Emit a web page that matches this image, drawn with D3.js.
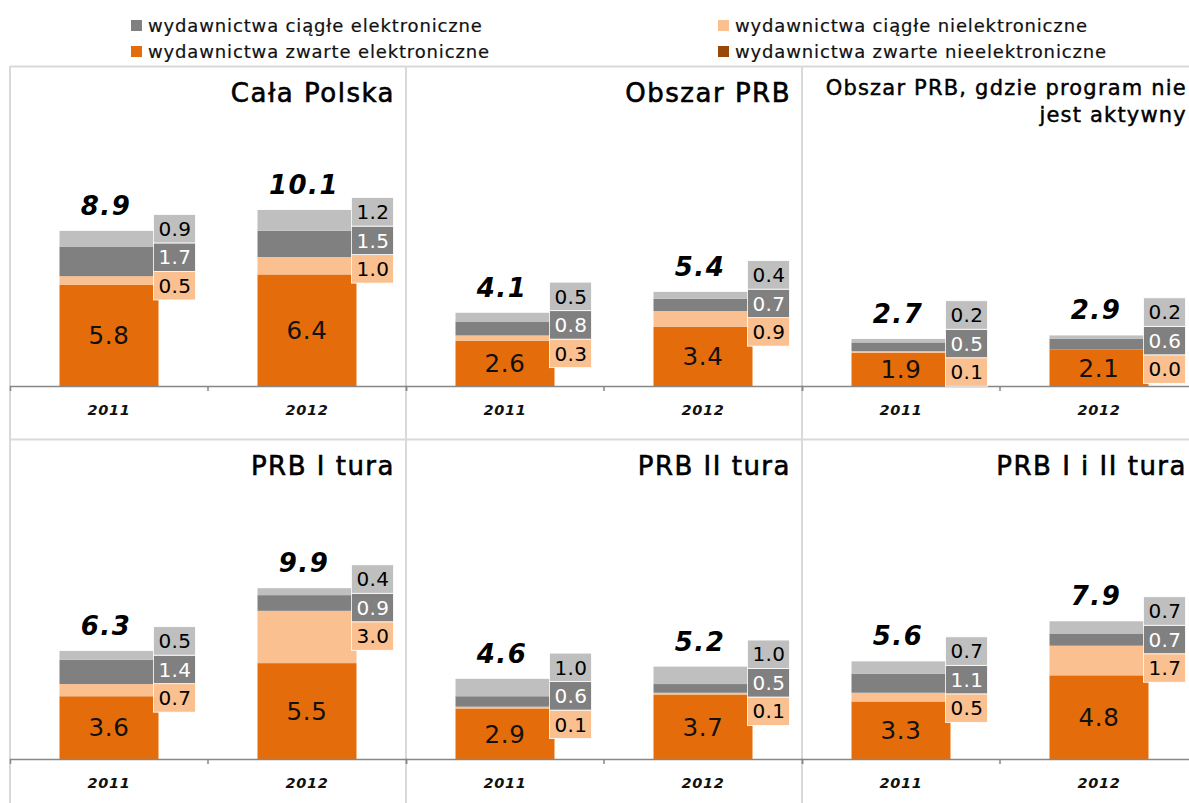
<!DOCTYPE html>
<html>
<head>
<meta charset="utf-8">
<script src="https://cdn.jsdelivr.net/npm/d3@7"></script>
<style>
  html, body { margin: 0; padding: 0; background: #fff; }
  svg { display: block; font-family: "DejaVu Sans", Verdana, sans-serif; }
</style>
</head>
<body>
<script>
// ---- data ----------------------------------------------------------------
const years = ["2011", "2012"];
const panelTitles = [
  ["Cała Polska"],
  ["Obszar PRB"],
  ["Obszar PRB, gdzie program nie", "jest aktywny"],
  ["PRB I tura"],
  ["PRB II tura"],
  ["PRB I i II tura"]
];
// per panel: [2011, 2012]
const zwarteElektroniczne   = [[5.8, 6.4], [2.6, 3.4], [1.9, 2.1], [3.6, 5.5], [2.9, 3.7], [3.3, 4.8]];
const ciagleNieelektroniczne = [[0.5, 1.0], [0.3, 0.9], [0.1, 0.0], [0.7, 3.0], [0.1, 0.1], [0.5, 1.7]];
const ciagleElektroniczne   = [[1.7, 1.5], [0.8, 0.7], [0.5, 0.6], [1.4, 0.9], [0.6, 0.5], [1.1, 0.7]];
const pozostale             = [[0.9, 1.2], [0.5, 0.4], [0.2, 0.2], [0.5, 0.4], [1.0, 1.0], [0.7, 0.7]];
const sumy                  = [[8.9, 10.1], [4.1, 5.4], [2.7, 2.9], [6.3, 9.9], [4.6, 5.2], [5.6, 7.9]];

const legendLabels = [
  "wydawnictwa ciągłe elektroniczne",
  "wydawnictwa zwarte elektroniczne",
  "wydawnictwa ciągłe nielektroniczne",
  "wydawnictwa zwarte nieelektroniczne"
];
const legendColors = ["#808080", "#E46C0A", "#FAC090", "#984807"];

// ---- layout ----------------------------------------------------------------
const W = 1189, H = 803;
const gridLeft = 10, panelW = 396;
const rowTops = [67, 440];
const plotH = 319;
const yMax = 18.3;

const keys = ["z", "cn", "ce", "poz"];
const fills = { z: "#E46C0A", cn: "#FAC090", ce: "#808080", poz: "#BFBFBF" };
const labelInk = { cn: "#000", ce: "#fff", poz: "#000" };

const svg = d3.select("body").append("svg")
  .attr("width", W).attr("height", H);

// ---- legend ----------------------------------------------------------------
const legendPos = [[131, 20], [131, 46], [718, 20], [718, 46]];
const lg = svg.append("g");
legendLabels.forEach((t, i) => {
  const [lx, ly] = legendPos[i];
  lg.append("rect").attr("x", lx).attr("y", ly).attr("width", 11).attr("height", 11)
    .attr("fill", legendColors[i]);
  lg.append("text").attr("x", lx + 17).attr("y", ly + 11.5)
    .attr("font-size", 18).attr("letter-spacing", 0.85).attr("fill", "#111")
    .attr("stroke", "#111").attr("stroke-width", 0.2)
    .text(t);
});

// ---- grid lines ------------------------------------------------------------
const gridColor = "#d9d9d9";
rowTops.forEach(t => {
  svg.append("line").attr("x1", gridLeft).attr("x2", W).attr("y1", t - 0.5).attr("y2", t - 0.5)
    .attr("stroke", gridColor).attr("stroke-width", 2);
});
[0, 1, 2].forEach(c => {
  const x = gridLeft + c * panelW;
  svg.append("line").attr("x1", x).attr("x2", x).attr("y1", rowTops[0] - 1).attr("y2", H)
    .attr("stroke", gridColor).attr("stroke-width", 2);
});

// ---- panels ----------------------------------------------------------------
const stack = d3.stack().keys(keys);

// keep stacked value labels apart: clusters of boxes centred on their targets
function spread(targets, h) {
  let clusters = targets.map((t, i) => ({ idx: [i], c: t }));
  let changed = true;
  while (changed) {
    changed = false;
    for (let i = 0; i < clusters.length - 1; i++) {
      const a = clusters[i], b = clusters[i + 1];
      const aTop = a.c - a.idx.length * h / 2;
      const bBottom = b.c + b.idx.length * h / 2;
      if (bBottom > aTop) {
        const idx = a.idx.concat(b.idx);
        const c = d3.mean(idx, j => targets[j]);
        clusters.splice(i, 2, { idx, c });
        changed = true;
        break;
      }
    }
  }
  const out = [];
  clusters.forEach(cl => {
    const n = cl.idx.length;
    cl.idx.forEach((j, k) => { out[j] = cl.c + (n - 1) / 2 * h - k * h; });
  });
  return out;
}

panelTitles.forEach((title, p) => {
  const col = p % 3, row = Math.floor(p / 3);
  const px = gridLeft + col * panelW;
  const top = rowTops[row];
  const base = top + plotH;

  const x = d3.scaleBand().domain(years).range([px, px + panelW]).paddingInner(0).paddingOuter(0);
  const y = d3.scaleLinear().domain([0, yMax]).range([base, base - plotH]);
  const barW = x.bandwidth() * 0.5;

  const rows = years.map((yr, i) => ({
    year: yr,
    z: zwarteElektroniczne[p][i],
    cn: ciagleNieelektroniczne[p][i],
    ce: ciagleElektroniczne[p][i],
    poz: pozostale[p][i],
    total: sumy[p][i]
  }));
  const series = stack(rows);
  const g = svg.append("g");

  // title
  const tt = g.append("text")
    .attr("text-anchor", "end")
    .attr("fill", "#000").attr("stroke", "#000");
  if (title.length === 1) {
    tt.attr("x", px + panelW - 11).attr("y", top + 35)
      .attr("font-size", 26).attr("letter-spacing", 1.5).attr("stroke-width", 0.6)
      .text(title[0]);
  } else {
    tt.attr("font-size", 21).attr("letter-spacing", 1.2).attr("stroke-width", 0.45);
    title.forEach((line, li) => {
      tt.append("tspan").attr("x", px + panelW - 11).attr("y", top + 28 + li * 27).text(line);
    });
  }

  // bars
  series.forEach(s => {
    g.selectAll(null).data(s).enter().append("rect")
      .attr("x", d => x(d.data.year) + (x.bandwidth() - barW) / 2)
      .attr("width", barW)
      .attr("y", d => y(d[1]))
      .attr("height", d => y(d[0]) - y(d[1]))
      .attr("fill", fills[s.key]);
  });

  // axis
  const axis = d3.axisBottom(x).tickSizeInner(0).tickSizeOuter(5).tickPadding(19);
  const ag = g.append("g").attr("transform", `translate(0,${base})`).call(axis);
  ag.select(".domain").attr("stroke", "#878787").attr("stroke-width", 1.5);
  ag.selectAll(".tick text")
    .attr("font-family", "DejaVu Sans, sans-serif")
    .attr("font-size", 14.5).attr("font-weight", "bold").attr("font-style", "italic")
    .attr("letter-spacing", 0.7).attr("fill", "#111");
  ag.append("line")
    .attr("x1", x(years[1])).attr("x2", x(years[1]))
    .attr("y1", 0).attr("y2", 5)
    .attr("stroke", "#878787").attr("stroke-width", 1.5);

  // labels
  const byKey = {};
  series.forEach(s => { byKey[s.key] = s; });
  rows.forEach((r, i) => {
    const bx = x(r.year) + (x.bandwidth() - barW) / 2;
    const cx = bx + barW / 2;

    // main segment value inside the bar
    const zs = byKey.z[i];
    g.append("text").attr("x", cx).attr("y", (y(zs[0]) + y(zs[1])) / 2)
      .attr("dy", "0.36em").attr("text-anchor", "middle")
      .attr("font-size", 24.5).attr("letter-spacing", 0.6).attr("fill", "#111")
      .text(d3.format(".1f")(r.z));

    // side labels in coloured boxes
    const sideKeys = ["cn", "ce", "poz"];
    const boxH = 28.5, boxW = 42;
    const targets = sideKeys.map(k => (y(byKey[k][i][0]) + y(byKey[k][i][1])) / 2);
    const centers = spread(targets, boxH).map(c => c - 3);
    sideKeys.forEach((k, j) => {
      const bxl = bx + barW - 5;
      g.append("rect")
        .attr("x", bxl).attr("y", centers[j] - boxH / 2)
        .attr("width", boxW).attr("height", boxH)
        .attr("fill", fills[k]).attr("stroke", "#fff").attr("stroke-width", 0.8);
      g.append("text")
        .attr("x", bxl + boxW / 2 + 0.5).attr("y", centers[j])
        .attr("dy", "0.36em").attr("text-anchor", "middle")
        .attr("font-size", 20).attr("letter-spacing", 0.4).attr("fill", labelInk[k])
        .text(d3.format(".1f")(r[k]));
    });

    // total above the bar
    const topVal = byKey.poz[i][1];
    g.append("text").attr("x", cx - 3).attr("y", y(topVal) - 16)
      .attr("text-anchor", "middle")
      .attr("font-size", 26).attr("font-weight", "bold").attr("font-style", "italic")
      .attr("letter-spacing", 1.5).attr("fill", "#000")
      .text(d3.format(".1f")(r.total));
  });
});
</script>
</body>
</html>
